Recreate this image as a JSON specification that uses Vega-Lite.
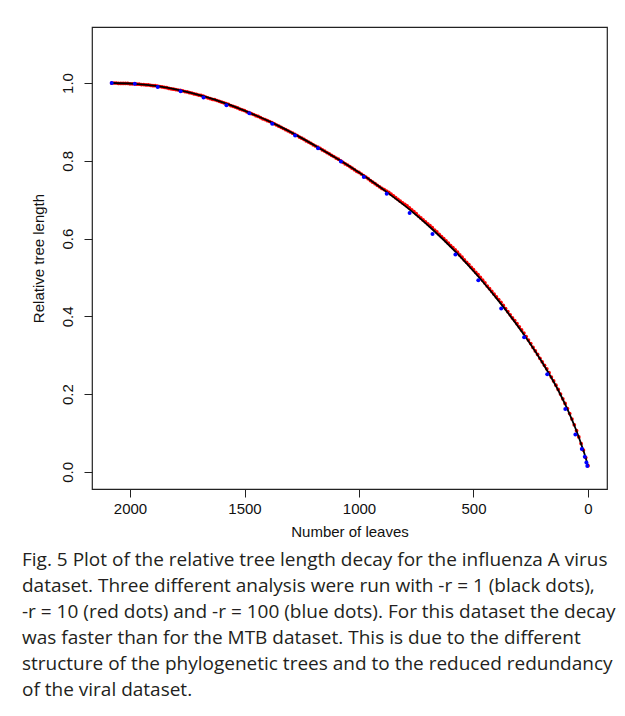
{
  "$schema": "https://vega.github.io/schema/vega-lite/v6.json",
  "autosize": "none",
  "width": 515,
  "height": 462,
  "padding": {"left": 92, "top": 27, "right": 18, "bottom": 227},
  "background": "white",
  "config": {
    "view": {"stroke": "#222222", "strokeWidth": 1.2},
    "font": "Liberation Sans"
  },
  "title": {
    "text": [
      "Fig. 5 Plot of the relative tree length decay for the influenza A virus",
      "dataset. Three different analysis were run with -r = 1 (black dots),",
      "-r = 10 (red dots) and -r = 100 (blue dots). For this dataset the decay",
      "was faster than for the MTB dataset. This is due to the different",
      "structure of the phylogenetic trees and to the reduced redundancy",
      "of the viral dataset."
    ],
    "orient": "bottom",
    "anchor": "start",
    "frame": "group",
    "dx": -70,
    "offset": 12,
    "font": "Open Sans",
    "fontSize": 19,
    "fontWeight": "normal",
    "color": "#231f20",
    "lineHeight": 26,
    "baseline": "top"
  },
  "datasets": {
    "black": [
      {"leaves": 2080, "length": 1.000},
      {"leaves": 1980, "length": 0.998},
      {"leaves": 1880, "length": 0.992},
      {"leaves": 1780, "length": 0.981},
      {"leaves": 1680, "length": 0.966},
      {"leaves": 1580, "length": 0.947},
      {"leaves": 1480, "length": 0.924},
      {"leaves": 1380, "length": 0.898},
      {"leaves": 1280, "length": 0.868},
      {"leaves": 1180, "length": 0.835},
      {"leaves": 1080, "length": 0.800},
      {"leaves": 980, "length": 0.762},
      {"leaves": 880, "length": 0.720},
      {"leaves": 780, "length": 0.675},
      {"leaves": 680, "length": 0.624},
      {"leaves": 580, "length": 0.567},
      {"leaves": 480, "length": 0.503},
      {"leaves": 380, "length": 0.432},
      {"leaves": 280, "length": 0.353},
      {"leaves": 180, "length": 0.262},
      {"leaves": 130, "length": 0.210},
      {"leaves": 100, "length": 0.174},
      {"leaves": 80, "length": 0.148},
      {"leaves": 60, "length": 0.120},
      {"leaves": 40, "length": 0.089},
      {"leaves": 30, "length": 0.072},
      {"leaves": 20, "length": 0.055},
      {"leaves": 10, "length": 0.036},
      {"leaves": 5, "length": 0.026},
      {"leaves": 0, "length": 0.015}
    ],
    "red": [
      {"leaves": 2080, "length": 1.000}, {"leaves": 2070, "length": 1.000}, {"leaves": 2060, "length": 1.000},
      {"leaves": 2050, "length": 0.999}, {"leaves": 2040, "length": 0.999}, {"leaves": 2030, "length": 0.999},
      {"leaves": 2020, "length": 0.999}, {"leaves": 2010, "length": 0.999}, {"leaves": 2000, "length": 0.998},
      {"leaves": 1990, "length": 0.998}, {"leaves": 1980, "length": 0.998}, {"leaves": 1970, "length": 0.997},
      {"leaves": 1960, "length": 0.997}, {"leaves": 1950, "length": 0.996}, {"leaves": 1940, "length": 0.996},
      {"leaves": 1930, "length": 0.995}, {"leaves": 1920, "length": 0.995}, {"leaves": 1910, "length": 0.994},
      {"leaves": 1900, "length": 0.993}, {"leaves": 1890, "length": 0.993}, {"leaves": 1880, "length": 0.992},
      {"leaves": 1870, "length": 0.991}, {"leaves": 1860, "length": 0.990}, {"leaves": 1850, "length": 0.989},
      {"leaves": 1840, "length": 0.988}, {"leaves": 1830, "length": 0.986}, {"leaves": 1820, "length": 0.985},
      {"leaves": 1810, "length": 0.984}, {"leaves": 1800, "length": 0.983}, {"leaves": 1790, "length": 0.982},
      {"leaves": 1780, "length": 0.981}, {"leaves": 1770, "length": 0.980}, {"leaves": 1760, "length": 0.978},
      {"leaves": 1750, "length": 0.977}, {"leaves": 1740, "length": 0.975}, {"leaves": 1730, "length": 0.974},
      {"leaves": 1720, "length": 0.972}, {"leaves": 1710, "length": 0.971}, {"leaves": 1700, "length": 0.969},
      {"leaves": 1690, "length": 0.968}, {"leaves": 1680, "length": 0.966}, {"leaves": 1670, "length": 0.964},
      {"leaves": 1660, "length": 0.962}, {"leaves": 1650, "length": 0.960}, {"leaves": 1640, "length": 0.958},
      {"leaves": 1630, "length": 0.957}, {"leaves": 1620, "length": 0.955}, {"leaves": 1610, "length": 0.953},
      {"leaves": 1600, "length": 0.951}, {"leaves": 1590, "length": 0.949}, {"leaves": 1580, "length": 0.947},
      {"leaves": 1570, "length": 0.945}, {"leaves": 1560, "length": 0.942}, {"leaves": 1550, "length": 0.940},
      {"leaves": 1540, "length": 0.938}, {"leaves": 1530, "length": 0.936}, {"leaves": 1520, "length": 0.933},
      {"leaves": 1510, "length": 0.931}, {"leaves": 1500, "length": 0.929}, {"leaves": 1490, "length": 0.926},
      {"leaves": 1480, "length": 0.924}, {"leaves": 1470, "length": 0.921}, {"leaves": 1460, "length": 0.919},
      {"leaves": 1450, "length": 0.916}, {"leaves": 1440, "length": 0.914}, {"leaves": 1430, "length": 0.911},
      {"leaves": 1420, "length": 0.908}, {"leaves": 1410, "length": 0.906}, {"leaves": 1400, "length": 0.903},
      {"leaves": 1390, "length": 0.901}, {"leaves": 1380, "length": 0.898}, {"leaves": 1370, "length": 0.895},
      {"leaves": 1360, "length": 0.892}, {"leaves": 1350, "length": 0.889}, {"leaves": 1340, "length": 0.886},
      {"leaves": 1330, "length": 0.883}, {"leaves": 1320, "length": 0.880}, {"leaves": 1310, "length": 0.877},
      {"leaves": 1300, "length": 0.874}, {"leaves": 1290, "length": 0.871}, {"leaves": 1280, "length": 0.868},
      {"leaves": 1270, "length": 0.865}, {"leaves": 1260, "length": 0.861}, {"leaves": 1250, "length": 0.858},
      {"leaves": 1240, "length": 0.855}, {"leaves": 1230, "length": 0.851}, {"leaves": 1220, "length": 0.848},
      {"leaves": 1210, "length": 0.845}, {"leaves": 1200, "length": 0.841}, {"leaves": 1190, "length": 0.838},
      {"leaves": 1180, "length": 0.835}, {"leaves": 1170, "length": 0.832}, {"leaves": 1160, "length": 0.828},
      {"leaves": 1150, "length": 0.825}, {"leaves": 1140, "length": 0.821}, {"leaves": 1130, "length": 0.818},
      {"leaves": 1120, "length": 0.814}, {"leaves": 1110, "length": 0.811}, {"leaves": 1100, "length": 0.807},
      {"leaves": 1090, "length": 0.804}, {"leaves": 1080, "length": 0.800}, {"leaves": 1070, "length": 0.796},
      {"leaves": 1060, "length": 0.792}, {"leaves": 1050, "length": 0.789}, {"leaves": 1040, "length": 0.785},
      {"leaves": 1030, "length": 0.781}, {"leaves": 1020, "length": 0.777}, {"leaves": 1010, "length": 0.773},
      {"leaves": 1000, "length": 0.770}, {"leaves": 990, "length": 0.766}, {"leaves": 980, "length": 0.762},
      {"leaves": 970, "length": 0.758}, {"leaves": 960, "length": 0.754}, {"leaves": 950, "length": 0.749},
      {"leaves": 940, "length": 0.745}, {"leaves": 930, "length": 0.741}, {"leaves": 920, "length": 0.737},
      {"leaves": 910, "length": 0.733}, {"leaves": 900, "length": 0.729}, {"leaves": 890, "length": 0.726},
      {"leaves": 880, "length": 0.722}, {"leaves": 870, "length": 0.719}, {"leaves": 860, "length": 0.714},
      {"leaves": 850, "length": 0.710}, {"leaves": 840, "length": 0.705}, {"leaves": 830, "length": 0.701},
      {"leaves": 820, "length": 0.696}, {"leaves": 810, "length": 0.692}, {"leaves": 800, "length": 0.688},
      {"leaves": 790, "length": 0.684}, {"leaves": 780, "length": 0.679}, {"leaves": 770, "length": 0.674},
      {"leaves": 760, "length": 0.669}, {"leaves": 750, "length": 0.664}, {"leaves": 740, "length": 0.658},
      {"leaves": 730, "length": 0.653}, {"leaves": 720, "length": 0.648}, {"leaves": 710, "length": 0.643},
      {"leaves": 700, "length": 0.638}, {"leaves": 690, "length": 0.633}, {"leaves": 680, "length": 0.628},
      {"leaves": 670, "length": 0.622}, {"leaves": 660, "length": 0.617}, {"leaves": 650, "length": 0.611},
      {"leaves": 640, "length": 0.605}, {"leaves": 630, "length": 0.600}, {"leaves": 620, "length": 0.594},
      {"leaves": 610, "length": 0.588}, {"leaves": 600, "length": 0.582}, {"leaves": 590, "length": 0.577},
      {"leaves": 580, "length": 0.571}, {"leaves": 570, "length": 0.565}, {"leaves": 560, "length": 0.558},
      {"leaves": 550, "length": 0.552}, {"leaves": 540, "length": 0.545}, {"leaves": 530, "length": 0.539},
      {"leaves": 520, "length": 0.533}, {"leaves": 510, "length": 0.526}, {"leaves": 500, "length": 0.520},
      {"leaves": 490, "length": 0.513}, {"leaves": 480, "length": 0.507}, {"leaves": 470, "length": 0.500},
      {"leaves": 460, "length": 0.493}, {"leaves": 450, "length": 0.486}, {"leaves": 440, "length": 0.478},
      {"leaves": 430, "length": 0.471}, {"leaves": 420, "length": 0.464}, {"leaves": 410, "length": 0.457},
      {"leaves": 400, "length": 0.450}, {"leaves": 390, "length": 0.443}, {"leaves": 380, "length": 0.436},
      {"leaves": 370, "length": 0.428}, {"leaves": 360, "length": 0.420}, {"leaves": 350, "length": 0.412},
      {"leaves": 340, "length": 0.404}, {"leaves": 330, "length": 0.396}, {"leaves": 320, "length": 0.389},
      {"leaves": 310, "length": 0.381}, {"leaves": 300, "length": 0.373}, {"leaves": 290, "length": 0.365},
      {"leaves": 280, "length": 0.357}, {"leaves": 270, "length": 0.348}, {"leaves": 260, "length": 0.339},
      {"leaves": 250, "length": 0.330}, {"leaves": 240, "length": 0.320}, {"leaves": 230, "length": 0.311},
      {"leaves": 220, "length": 0.302}, {"leaves": 210, "length": 0.292}, {"leaves": 200, "length": 0.283},
      {"leaves": 190, "length": 0.274}, {"leaves": 180, "length": 0.265}, {"leaves": 170, "length": 0.255},
      {"leaves": 160, "length": 0.244}, {"leaves": 150, "length": 0.234}, {"leaves": 140, "length": 0.223},
      {"leaves": 130, "length": 0.212}, {"leaves": 120, "length": 0.200}, {"leaves": 110, "length": 0.188},
      {"leaves": 100, "length": 0.176}, {"leaves": 90, "length": 0.163}, {"leaves": 80, "length": 0.150},
      {"leaves": 70, "length": 0.136}, {"leaves": 60, "length": 0.121}, {"leaves": 50, "length": 0.106},
      {"leaves": 40, "length": 0.090}, {"leaves": 30, "length": 0.073}, {"leaves": 20, "length": 0.056},
      {"leaves": 10, "length": 0.037}, {"leaves": 0, "length": 0.016}
    ],
    "blue": [
      {"leaves": 2080, "length": 1.000},
      {"leaves": 1979, "length": 0.998},
      {"leaves": 1879, "length": 0.990},
      {"leaves": 1779, "length": 0.979},
      {"leaves": 1679, "length": 0.963},
      {"leaves": 1579, "length": 0.943},
      {"leaves": 1479, "length": 0.922},
      {"leaves": 1379, "length": 0.895},
      {"leaves": 1279, "length": 0.865},
      {"leaves": 1179, "length": 0.832},
      {"leaves": 1079, "length": 0.798},
      {"leaves": 979, "length": 0.758},
      {"leaves": 879, "length": 0.715},
      {"leaves": 779, "length": 0.666},
      {"leaves": 679, "length": 0.612},
      {"leaves": 579, "length": 0.559},
      {"leaves": 479, "length": 0.493},
      {"leaves": 379, "length": 0.420},
      {"leaves": 279, "length": 0.346},
      {"leaves": 178, "length": 0.251},
      {"leaves": 99, "length": 0.162},
      {"leaves": 55, "length": 0.096},
      {"leaves": 27, "length": 0.059},
      {"leaves": 14, "length": 0.039},
      {"leaves": 7, "length": 0.024},
      {"leaves": 3, "length": 0.015}
    ]
  },
  "encoding": {
    "x": {
      "field": "leaves",
      "type": "quantitative",
      "scale": {"domain": [-83, 2166], "reverse": true, "nice": false, "zero": false},
      "axis": {
        "values": [0, 500, 1000, 1500, 2000],
        "format": "d",
        "title": "Number of leaves",
        "domain": false,
        "grid": false,
        "ticks": true,
        "tickSize": 8,
        "tickColor": "#222222",
        "labelFont": "Liberation Sans",
        "labelFontSize": 15,
        "labelColor": "#111111",
        "labelPadding": 4,
        "titleFont": "Liberation Sans",
        "titleFontSize": 15,
        "titleFontWeight": "normal",
        "titleColor": "#111111",
        "titlePadding": 8
      }
    },
    "y": {
      "field": "length",
      "type": "quantitative",
      "scale": {"domain": [-0.044, 1.144], "nice": false, "zero": false},
      "axis": {
        "values": [0, 0.2, 0.4, 0.6, 0.8, 1.0],
        "format": ".1f",
        "title": "Relative tree length",
        "domain": false,
        "grid": false,
        "tickSize": 8,
        "tickColor": "#222222",
        "labelFont": "Liberation Sans",
        "labelFontSize": 15,
        "labelColor": "#111111",
        "labelAngle": -90,
        "labelAlign": "center",
        "labelBaseline": "alphabetic",
        "labelPadding": 12,
        "titleFont": "Liberation Sans",
        "titleFontSize": 15,
        "titleFontWeight": "normal",
        "titleColor": "#111111",
        "titlePadding": 14
      }
    }
  },
  "layer": [
    {
      "data": {"name": "red"},
      "mark": {"type": "point", "filled": true, "shape": "circle", "size": 14, "color": "#ff0000", "opacity": 1}
    },
    {
      "data": {"name": "black"},
      "mark": {"type": "line", "color": "#000000", "strokeWidth": 1.8, "interpolate": "monotone"}
    },
    {
      "data": {"name": "blue"},
      "mark": {"type": "point", "filled": true, "shape": "circle", "size": 16, "color": "#0000ff", "opacity": 1}
    }
  ]
}
